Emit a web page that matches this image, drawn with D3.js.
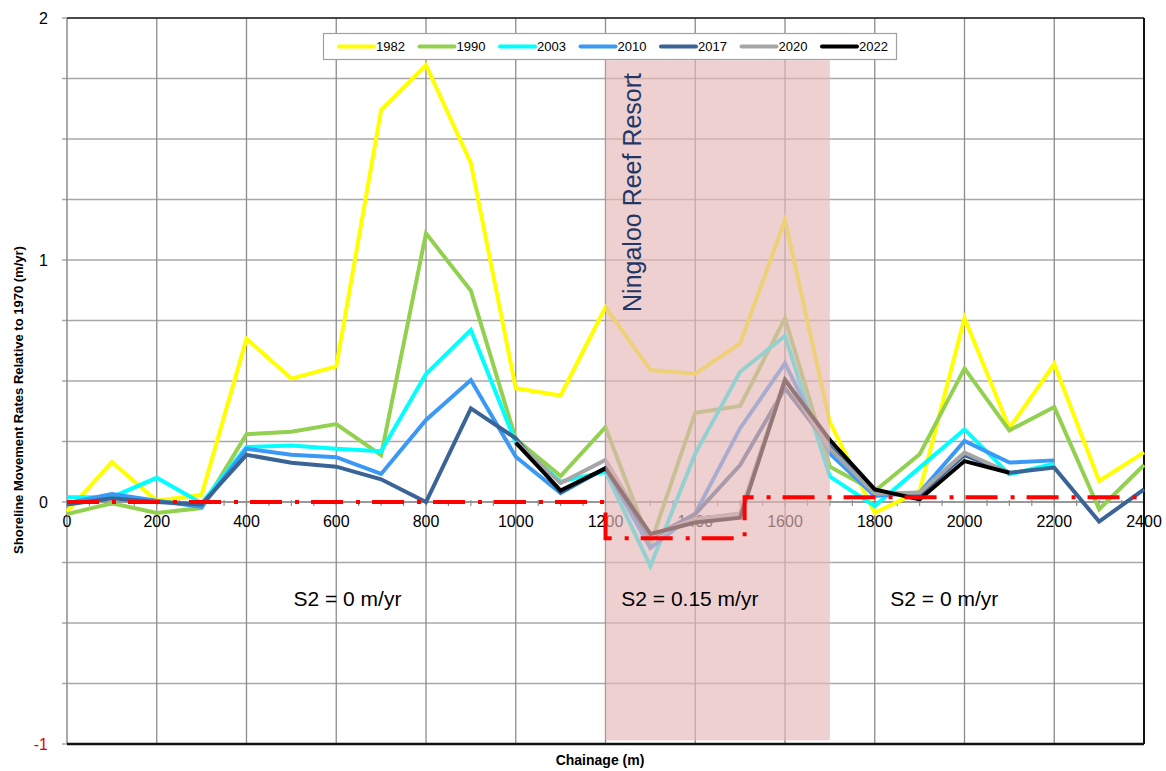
<!DOCTYPE html>
<html><head><meta charset="utf-8">
<script src="https://cdn.jsdelivr.net/npm/d3@7"></script>
<style>body{margin:0;background:#fff}svg{display:block}text{font-family:"Liberation Sans",Arial,sans-serif}</style>
</head><body><svg id="c" width="1166" height="771"></svg>
<script>
const chainage = d3.range(0, 2401, 100);
const years = ["1982","1990","2003","2010","2017","2020","2022"];
const colors = ["#FFFF00","#92D050","#00FFFF","#3A99F5","#3A6496","#A6A6A6","#000000"];
// values per chainage 0..2400 (null = no data)
const v1982 = [-0.04,0.165,0.005,0.03,0.675,0.51,0.56,1.62,1.805,1.40,0.47,0.44,0.805,0.545,0.53,0.655,1.165,0.33,-0.045,0.045,0.76,0.305,0.57,0.087,0.205];
const v1990 = [-0.05,-0.005,-0.045,-0.025,0.28,0.29,0.322,0.194,1.11,0.873,0.26,0.107,0.309,-0.175,0.369,0.397,0.759,0.146,0.045,0.197,0.552,0.296,0.393,-0.03,0.153];
const v2003 = [0.02,0.02,0.1,-0.005,0.227,0.233,0.22,0.21,0.529,0.711,0.245,0.084,0.125,-0.265,0.2,0.538,0.686,0.105,-0.017,0.142,0.30,0.114,0.158,null,null];
const v2010 = [-0.005,0.033,0.005,-0.02,0.22,0.195,0.185,0.116,0.339,0.504,0.187,0.037,0.14,-0.19,-0.047,0.305,0.573,0.2,0.025,0.039,0.252,0.163,0.172,null,null];
const v2017 = [-0.01,0.015,0.0,-0.01,0.195,0.162,0.146,0.094,0.0,0.387,0.263,0.04,0.14,-0.15,-0.05,0.153,0.47,0.23,0.039,0.03,0.194,0.121,0.142,-0.081,0.052];
const v2020 = [null,null,null,null,null,null,null,null,null,null,0.25,0.078,0.174,-0.14,-0.07,-0.047,0.51,0.22,0.034,0.039,0.204,0.121,null,null,null];
const v2022 = [null,null,null,null,null,null,null,null,null,null,0.245,0.047,0.139,-0.132,-0.085,-0.065,0.504,0.256,0.052,0.011,0.169,0.121,null,null,null];
const series = [v1982,v1990,v2003,v2010,v2017,v2020,v2022];
const stepX = [0,1200,1200,1510,1510,2400];
const stepY = [0,0,-0.15,-0.15,0.02,0.02];
const zoneLabels = ["S2 = 0 m/yr","S2 = 0.15 m/yr","S2 = 0 m/yr"];
const zoneLabelX = [625,1388,1955];
const zoneLabelY = -0.4;
const resortName = "Ningaloo Reef Resort";
const resortX = [1200,1700];
const resortY = [-0.985,1.825];
const yTickLabels = [2,1,0,-1];
const xTickLabels = d3.range(0,2401,200);

const svg = d3.select("#c");
const x = d3.scaleLinear().domain([0,2400]).range([67,1144]);
const y = d3.scaleLinear().domain([-1,2]).range([744,18]);

// horizontal grid
svg.append("g").selectAll("line").data(d3.range(-1,2.001,0.25)).join("line")
  .attr("x1",62).attr("x2",1144).attr("y1",d=>y(d)).attr("y2",d=>y(d))
  .attr("stroke","#A8A8A8").attr("stroke-width",1.5);
// vertical grid
svg.append("g").selectAll("line").data(d3.range(200,2400,200)).join("line")
  .attr("x1",d=>x(d)).attr("x2",d=>x(d)).attr("y1",y(2)).attr("y2",y(-1))
  .attr("stroke","#8C8C8C").attr("stroke-width",1.3);
// left axis
svg.append("line").attr("x1",x(0)).attr("x2",x(0)).attr("y1",y(2)).attr("y2",y(-1)).attr("stroke","#8C8C8C").attr("stroke-width",1.5);
// x axis at zero with minor ticks
svg.append("line").attr("x1",x(0)).attr("x2",x(2400)).attr("y1",y(0)).attr("y2",y(0)).attr("stroke","#8C8C8C").attr("stroke-width",1.3);
svg.append("g").selectAll("line").data(d3.range(0,2401,50)).join("line")
  .attr("x1",d=>x(d)).attr("x2",d=>x(d)).attr("y1",y(0)-2).attr("y2",y(0)+4)
  .attr("stroke","#8C8C8C").attr("stroke-width",1.2);
// frame
svg.append("line").attr("x1",x(0)).attr("x2",x(2400)).attr("y1",y(2)).attr("y2",y(2)).attr("stroke","#222").attr("stroke-width",1.5);
svg.append("line").attr("x1",x(2400)).attr("x2",x(2400)).attr("y1",y(2)).attr("y2",y(-1)).attr("stroke","#111").attr("stroke-width",2);
svg.append("line").attr("x1",x(0)).attr("x2",x(2400)).attr("y1",y(-1)).attr("y2",y(-1)).attr("stroke","#111").attr("stroke-width",2.5);

// tick labels
svg.append("g").selectAll("text").data(yTickLabels).join("text")
  .attr("x",48).attr("y",d=>y(d)).attr("dy","0.35em").attr("text-anchor","end")
  .attr("font-size",16).attr("fill",d=>d<0?"#E00000":"#000").text(d=>d);
svg.append("g").selectAll("text").data(xTickLabels).join("text")
  .attr("x",d=>x(d)).attr("y",y(0)+19).attr("dy","0.35em").attr("text-anchor","middle")
  .attr("font-size",16).attr("fill","#000").text(d=>d);

// lines
const line = d3.line().defined(d=>d[1]!=null).x(d=>x(d[0])).y(d=>y(d[1]));
series.forEach((s,i)=>{
  svg.append("path").datum(chainage.map((c,j)=>[c,s[j]]))
    .attr("d",line).attr("fill","none").attr("stroke",colors[i])
    .attr("stroke-width",4).attr("stroke-linejoin","miter");
});

// shaded resort zone (over lines)
svg.append("rect").attr("x",x(resortX[0])).attr("width",x(resortX[1])-x(resortX[0]))
  .attr("y",y(resortY[1])).attr("height",y(resortY[0])-y(resortY[1]))
  .attr("fill","rgb(229,183,185)").attr("fill-opacity",0.65);

// red step line
svg.append("path").datum(stepX.map((d,i)=>[d,stepY[i]]))
  .attr("d",d3.line().x(d=>x(d[0])).y(d=>y(d[1])))
  .attr("fill","none").attr("stroke","#FF0000").attr("stroke-width",4)
  .attr("stroke-dasharray","32,13,4,12");

// resort label
svg.append("text").attr("transform",`translate(${x(1259)},${y(1.279)}) rotate(-90)`)
  .attr("text-anchor","middle").attr("dy","0.35em").attr("font-size",25).attr("fill","#1F3864").text(resortName);

// zone labels
svg.append("g").selectAll("text").data(zoneLabels).join("text")
  .attr("x",(d,i)=>x(zoneLabelX[i])).attr("y",y(zoneLabelY)).attr("dy","0.35em")
  .attr("text-anchor","middle").attr("font-size",21).attr("fill","#000").text(d=>d);

// axis titles
svg.append("text").attr("transform","translate(18,400) rotate(-90)").attr("text-anchor","middle")
  .attr("dy","0.35em").attr("font-size",13).attr("font-weight","bold").text("Shoreline Movement Rates Relative to 1970 (m/yr)");
svg.append("text").attr("x",600).attr("y",760).attr("dy","0.35em").attr("text-anchor","middle")
  .attr("font-size",14).attr("font-weight","bold").text("Chainage (m)");

// legend
const lg = svg.append("g");
lg.append("rect").attr("x",323.5).attr("y",33.5).attr("width",573).attr("height",26)
  .attr("fill","#fff").attr("stroke","#A0A0A0").attr("stroke-width",1.2);
years.forEach((yr,i)=>{
  const lx = 339 + i*80.5;
  lg.append("line").attr("x1",lx).attr("x2",lx+35).attr("y1",46.5).attr("y2",46.5)
    .attr("stroke",colors[i]).attr("stroke-width",4).attr("stroke-linecap","round");
  lg.append("text").attr("x",lx+37).attr("y",46.5).attr("dy","0.35em").attr("font-size",13).text(yr);
});
</script></body></html>
